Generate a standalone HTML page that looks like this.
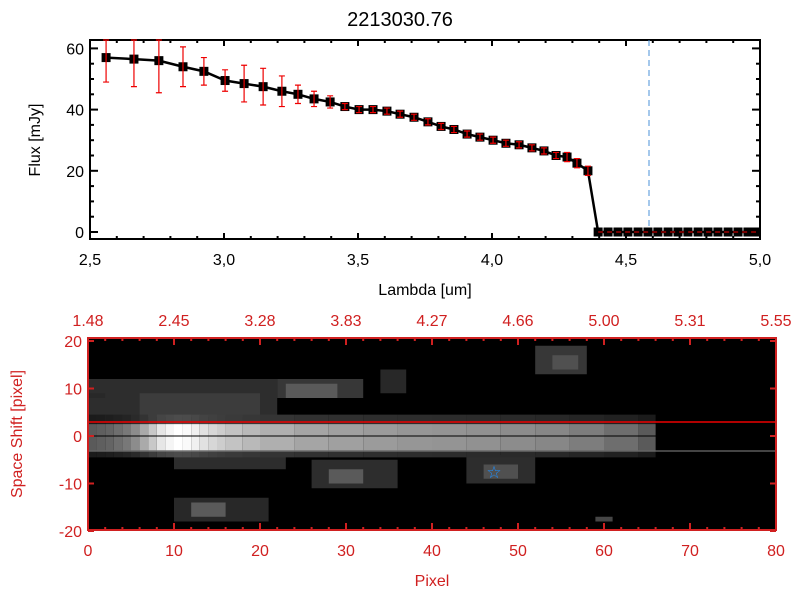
<!DOCTYPE html>
<html><head><meta charset="utf-8"><style>
body{margin:0;background:#fff}
svg{display:block;font-family:"Liberation Sans",sans-serif}
</style></head><body>
<svg id="c" width="800" height="600">
<defs><clipPath id="imgclip"><rect x="88" y="338" width="688" height="192"/></clipPath></defs>
<rect width="800" height="600" fill="#fff"/>
<text x="400" y="26" font-size="20" text-anchor="middle">2213030.76</text>
<g id="top"></g><g id="bot"></g>
</svg>
<script>
const lambdas=[2.560,2.664,2.757,2.847,2.925,3.004,3.075,3.146,3.216,3.276,3.336,3.396,3.451,3.504,3.556,3.608,3.657,3.709,3.761,3.810,3.858,3.907,3.955,4.004,4.052,4.101,4.149,4.194,4.239,4.280,4.317,4.358,4.396,4.433,4.470,4.507,4.545,4.582,4.619,4.657,4.694,4.731,4.769,4.806,4.843,4.881,4.918,4.955,4.985];
const flux=[57,56.5,56,54,52.5,49.5,48.5,47.5,46,45,43.5,42.5,41,40,40,39.5,38.5,37.5,36,34.5,33.5,32,31,30,29,28.5,27.5,26.5,25,24.5,22.5,20,0,0,0,0,0,0,0,0,0,0,0,0,0,0,0,0,0];
const fluxErr=[8,9,10.5,6.5,4.5,3.5,6,6,5,3,2.5,2,1,1,1,1,1,1,1,1,1,1,1,1,1,1,1,1,1,1.5,1.5,1.5,0,0,0,0,0,0,0,0,0,0,0,0,0,0,0,0,0];
const xTicks=[2.5,3.0,3.5,4.0,4.5,5.0];
const yTicks=[0,20,40,60];
const pixTicks=[0,10,20,30,40,50,60,70,80];
const topLabels=["1.48","2.45","3.28","3.83","4.27","4.66","5.00","5.31","5.55"];
const shiftTicks=[-20,-10,0,10,20];
const traceCols=[0,1,2,3,4,5,6,7,8,9,10,11,12,13,14,15,16,18,20,24,28,32,36,40,44,48,52,56,60,64,66];
const traceVals=[90,95,100,110,120,140,170,200,230,245,255,250,240,225,215,205,195,185,175,165,160,155,150,148,145,140,135,125,110,90,70];
// blobs: [pixelStart, pixelEnd, shiftTop, shiftBottom, gray]
const blobs=[[0,22,12,3,45],[6,20,9,4,60],[10,23,-3,-7,45],[22,32,12,8,55],[23,29,11,8,90],[34,37,14,9,40],[26,36,-5,-11,45],[28,32,-7,-10,90],[10,21,-13,-18,40],[12,16,-14,-17,90],[44,52,-4,-10,45],[46,50,-6,-9,80],[52,58,19,13,55],[54,57,17,14,80],[59,61,-17,-18,70],[0,2,9,8,40]];
const NS="http://www.w3.org/2000/svg";
function el(p,t,a){const e=document.createElementNS(NS,t);for(const k in a)e.setAttribute(k,a[k]);p.appendChild(e);return e;}
const T=document.getElementById('top');
const X0=90,X1=760,Y0=40,Y1=239;
const sx=v=>X0+(v-2.5)/2.5*(X1-X0);
const sy=v=>232-(v)*3.06;
let ax=el(T,'rect',{x:X0,y:Y0,width:X1-X0,height:Y1-Y0,fill:'none',stroke:'#000','stroke-width':2});

xTicks.forEach(v=>{const x=sx(v);el(T,'line',{x1:x,x2:x,y1:Y1,y2:Y1-6,stroke:'#000','stroke-width':2});el(T,'line',{x1:x,x2:x,y1:Y0,y2:Y0+6,stroke:'#000','stroke-width':2});
 const t=el(T,'text',{x:x,y:Y1+26,'font-size':16,'text-anchor':'middle'});t.textContent=v.toFixed(1).replace('.',',');});
for(let v=2.6;v<5;v+=0.1){const x=sx(v);el(T,'line',{x1:x,x2:x,y1:Y1,y2:Y1-3,stroke:'#000','stroke-width':2});el(T,'line',{x1:x,x2:x,y1:Y0,y2:Y0+3,stroke:'#000','stroke-width':2});}
yTicks.forEach(v=>{const y=sy(v);el(T,'line',{x1:X0,x2:X0+8,y1:y,y2:y,stroke:'#000','stroke-width':2});el(T,'line',{x1:X1,x2:X1-8,y1:y,y2:y,stroke:'#000','stroke-width':2});
 const t=el(T,'text',{x:X0-6,y:y+6,'font-size':16,'text-anchor':'end'});t.textContent=v;});
for(let v=5;v<62;v+=5){if(v%20){const y=sy(v);el(T,'line',{x1:X0,x2:X0+4,y1:y,y2:y,stroke:'#000','stroke-width':2});el(T,'line',{x1:X1,x2:X1-4,y1:y,y2:y,stroke:'#000','stroke-width':2});}}
let t=el(T,'text',{x:425,y:295,'font-size':16,'text-anchor':'middle'});t.textContent='Lambda [um]';
t=el(T,'text',{x:0,y:0,'font-size':16,'text-anchor':'middle',transform:'translate(40,140) rotate(-90)'});t.textContent='Flux [mJy]';
let dl=el(T,'line',{x1:649,x2:649,y1:Y0,y2:Y1,stroke:'#4a90d9','stroke-width':1,'stroke-dasharray':'6,4'});

let pts=lambdas.map((l,i)=>sx(l)+','+sy(flux[i])).join(' ');
let pl=el(T,'polyline',{points:pts,fill:'none',stroke:'#000','stroke-width':2.5});

lambdas.forEach((l,i)=>{const x=sx(l),y=sy(flux[i]);
 const s=el(T,'rect',{x:x-4.5,y:y-4.5,width:9,height:9,fill:'#000'});
 if(fluxErr[i]>0){const y1=Math.max(Y0,sy(flux[i]+fluxErr[i])),y2=sy(flux[i]-fluxErr[i]);
  const e=el(T,'path',{d:`M${x},${y1}V${y2}M${x-3},${y1}h6M${x-3},${y2}h6`,stroke:'#e00',fill:'none','stroke-width':1.2});}});
el(T,'line',{x1:sx(lambdas[32]),x2:X1-4,y1:sy(0),y2:sy(0),stroke:'#e00','stroke-width':1,'stroke-dasharray':'5,4'});
const B=document.getElementById('bot');
const P0=88,P1=776,Q0=338,Q1=530;
const px=v=>P0+v*(P1-P0)/80;
const py=v=>436-v*4.75;
const bg=el(B,'rect',{x:P0,y:Q0,width:P1-P0,height:Q1-Q0,fill:'#000'});
const IG=el(B,'g',{'clip-path':'url(#imgclip)'});
blobs.forEach(b=>{const r=el(IG,'rect',{x:px(b[0]),y:py(b[2]),width:px(b[1])-px(b[0]),height:py(b[3])-py(b[2]),fill:`rgb(${b[4]},${b[4]},${b[4]})`});});
for(let i=0;i<traceCols.length-1;i++){const g=traceVals[i];const w=px(traceCols[i+1])-px(traceCols[i]);
 const h=el(IG,'rect',{x:px(traceCols[i]),y:py(4.5),width:w,height:9*4.75,fill:`rgb(${g*0.3|0},${g*0.3|0},${g*0.3|0})`});
 const c=el(IG,'rect',{x:px(traceCols[i]),y:py(2.5),width:w,height:5.5*4.75,fill:`rgb(${g},${g},${g})`});}
el(B,'line',{x1:P0,x2:P1,y1:422,y2:422,stroke:'#e00','stroke-width':1.5});
el(B,'line',{x1:P0,x2:P1,y1:436,y2:436,stroke:'#000','stroke-width':1});
el(B,'line',{x1:P0,x2:P1,y1:451,y2:451,stroke:'#888','stroke-width':1});
let st=el(B,'text',{x:494,y:478,'font-size':17,'text-anchor':'middle',fill:'#1e90ff'});st.textContent='☆';
const R='#d02020';
el(B,'rect',{x:P0,y:Q0,width:P1-P0,height:Q1-Q0,fill:'none',stroke:R,'stroke-width':2});
pixTicks.forEach((v,i)=>{const x=px(v);el(B,'line',{x1:x,x2:x,y1:Q1,y2:Q1-7,stroke:R,'stroke-width':2});el(B,'line',{x1:x,x2:x,y1:Q0,y2:Q0+7,stroke:R,'stroke-width':2});
 let a=el(B,'text',{x:x,y:Q1+26,'font-size':16,'text-anchor':'middle',fill:R});a.textContent=v;
 let b=el(B,'text',{x:x,y:Q0-12,'font-size':16,'text-anchor':'middle',fill:R});b.textContent=topLabels[i];});
for(let v=2;v<80;v+=2){if(v%10){const x=px(v);el(B,'line',{x1:x,x2:x,y1:Q1,y2:Q1-3,stroke:R,'stroke-width':2});el(B,'line',{x1:x,x2:x,y1:Q0,y2:Q0+3,stroke:R,'stroke-width':2});}}
shiftTicks.forEach(v=>{const y=py(v);el(B,'line',{x1:P0,x2:P0+6,y1:y,y2:y,stroke:R,'stroke-width':2});el(B,'line',{x1:P1,x2:P1-6,y1:y,y2:y,stroke:R,'stroke-width':2});
 let a=el(B,'text',{x:P0-6,y:y+6,'font-size':16,'text-anchor':'end',fill:R});a.textContent=v;});
t=el(B,'text',{x:432,y:586,'font-size':16,'text-anchor':'middle',fill:R});t.textContent='Pixel';
t=el(B,'text',{x:0,y:0,'font-size':16,'text-anchor':'middle',fill:R,transform:'translate(22,434) rotate(-90)'});t.textContent='Space Shift [pixel]';
</script>
</body></html>
